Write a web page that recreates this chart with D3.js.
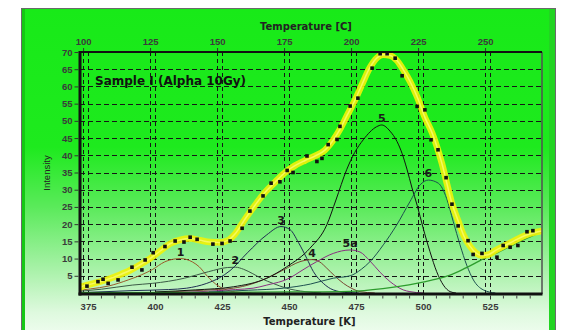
<!DOCTYPE html>
<html><head><meta charset="utf-8">
<script src="https://cdn.jsdelivr.net/npm/d3@7"></script>
<style>html,body{margin:0;padding:0;background:#fff;}svg{display:block;}</style>
</head><body><svg id="c" width="562" height="330"></svg>
<script>
// ---------- data ----------
const kTicks = [375, 400, 425, 450, 475, 500, 525];
const cTicks = [100, 125, 150, 175, 200, 225, 250];
const yTicks = [5, 10, 15, 20, 25, 30, 35, 40, 45, 50, 55, 60, 65, 70];
const titleText = "Sample I (Alpha 10Gy)";
const xTitle = "Temperature [K]";
const x2Title = "Temperature [C]";
const yTitle = "Intensity";

// measured points: temperature [K] and intensity
const dataK = [374.6,378.7,380.6,382.5,386.2,391.4,395.1,396.3,399.3,403.7,407.5,410.8,413.1,415.7,421.6,425.0,428.0,432.5,435.4,440.3,443.3,446.6,449.3,451.5,456.7,460.4,462.3,464.6,467.9,469.0,472.8,475.7,481.0,484.0,486.6,489.6,492.2,497.8,500.7,503.0,505.6,508.6,510.8,513.1,516.8,518.7,522.0,527.6,529.9,532.5,535.4,538.8,541.0];
const dataV = [2.0,3.3,4.0,2.8,3.8,7.5,6.7,9.6,11.7,13.5,15.1,14.8,16.2,15.6,14.2,14.4,15.1,18.8,23.8,28.2,31.9,32.3,35.6,35.0,39.8,38.2,39.1,43.1,44.6,48.4,54.3,56.6,65.3,69.5,69.5,68.2,63.1,54.2,53.2,44.5,41.6,33.5,25.8,19.5,15.2,11.2,11.5,10.4,13.8,13.3,13.8,17.8,18.1];

// fitted total curve [K, intensity]
const fitCurve = [[372.0,1.6],[373.1,2.0],[375.7,2.5],[379.5,3.3],[383.2,4.2],[386.9,5.3],[390.7,6.6],[394.4,8.2],[398.1,10.0],[401.9,12.2],[405.6,14.3],[409.3,15.4],[413.1,15.8],[416.8,15.3],[420.5,14.8],[424.3,14.7],[427.2,15.3],[429.9,17.2],[433.6,21.5],[437.3,25.5],[441.0,29.2],[444.8,32.2],[448.5,35.0],[452.2,37.0],[456.0,38.5],[459.7,39.8],[463.4,41.5],[466.4,44.3],[469.0,47.5],[471.6,51.5],[474.6,56.0],[477.2,60.5],[480.2,65.5],[482.8,68.3],[485.1,69.2],[487.7,69.0],[490.3,67.5],[492.9,64.5],[495.1,61.5],[497.8,57.0],[500.7,51.0],[503.4,46.5],[505.2,42.5],[507.1,37.5],[509.0,31.5],[510.8,26.0],[513.1,21.0],[515.3,16.5],[517.5,13.6],[519.8,11.6],[522.0,10.9],[524.3,11.1],[526.9,12.3],[530.6,13.8],[534.3,15.3],[538.1,16.7],[541.8,17.6],[544.4,18.0]];

// component peaks [K, intensity]
const peak1 = [[372,0.8],[376,1.2],[382.5,2.0],[390,3.8],[395,5.3],[399,6.8],[403.5,9.0],[407.5,9.9],[409.5,10.0],[411.5,9.8],[414,9.0],[416.5,7.6],[419.5,4.9],[423.5,2.1],[426,1.1],[430,0.3],[436,0]];
const peak2 = [[372,0.5],[380,1.1],[391.5,2.3],[399,2.8],[405,3.4],[411,4.3],[420,6.2],[427,7.4],[430,7.5],[433,6.9],[436.5,5.6],[440,4.1],[444,2.8],[449,1.4],[456,0.4],[462,0]];
const peak3 = [[372,0.1],[391.8,0.7],[405,1.0],[411.8,1.4],[419.3,2.8],[424,4.4],[428,6.5],[434.5,11.7],[441.7,16.9],[447,19.3],[450.4,18.4],[453.5,14.7],[456.6,10.1],[459.1,6.2],[462.8,2.8],[466.5,0.9],[472,0.1],[476,0]];
const peak4 = [[400,0.2],[418,0.8],[429.2,1.4],[436,2.6],[441.7,4.3],[447.9,6.7],[454.1,9.1],[458.6,9.7],[461.5,9.0],[464.1,7.2],[467,5.0],[470.3,2.8],[473.5,1.3],[476.5,0.4],[482,0]];
const peak5a = [[405,0.1],[420,0.5],[430,1.0],[436.6,1.4],[441.7,2.3],[450.4,4.4],[454.1,6.2],[460.3,9.1],[466.5,11.5],[472.8,12.5],[476.5,11.9],[480.2,9.3],[484,6.0],[487.7,3.3],[490.2,1.9],[492.6,0.9],[495.1,0.4],[500,0]];
const peak5 = [[400,0.3],[415,0.9],[429.2,1.8],[441.7,4.3],[449.1,7.6],[457.8,13.0],[464.1,19.8],[467.5,27.0],[471.5,35.8],[474.5,40.8],[477.7,44.5],[482.7,48.3],[484.6,48.8],[487.7,47.0],[490.3,44.0],[492.2,40.5],[494,36.0],[495.9,30.5],[497.8,25.5],[500,19.0],[502.6,12.0],[505.1,6.2],[507.6,2.3],[510.1,0.4],[512.3,0]];
const peak6 = [[420,0.3],[435,0.8],[447.9,1.4],[458,2.6],[466.5,4.3],[472.8,5.0],[477,6.9],[480.2,9.1],[485.2,14.0],[490.2,19.8],[495.1,26.5],[498.9,31.4],[502,32.8],[505.7,31.9],[508.8,27.5],[511.3,20.7],[513.8,14.0],[516.3,8.1],[518.8,3.8],[522.5,0.9],[527,0]];
const background = [[372,0.1],[420,0.2],[450,0.3],[472.8,0.5],[485,1.3],[497.6,2.8],[504,3.9],[510.1,5.2],[516,7.3],[522.5,9.9],[528,11.8],[533.7,14.0],[539,16.0],[544.4,17.8]];

const peakNames = ["1", "2", "3", "4", "5a", "5", "6"];
const peakSeries = [peak1, peak2, peak3, peak4, peak5a, peak5, peak6];
const peakColors = ["#9a5a2c", "#3b5a46", "#1e2d52", "#7a4632", "#8a2f80", "#111111", "#1d5050"];

// ---------- drawing ----------
const W = 562, H = 330;
const M = {left: 80, right: 542, top: 52, bottom: 293};
const svg = d3.select("#c");
const x = d3.scaleLinear().domain([372, 544.4]).range([M.left, M.right]);
const y = d3.scaleLinear().domain([0, 70]).range([M.bottom, M.top]);
const K0 = 273.15;

const defs = svg.append("defs");
const g = defs.append("linearGradient").attr("id", "bg").attr("x1", 0).attr("y1", 0).attr("x2", 0).attr("y2", 1);
[[0, "rgb(24,234,24)"], [0.42, "rgb(30,234,30)"], [0.6, "rgb(90,234,90)"], [0.8, "rgb(172,242,172)"], [0.92, "rgb(222,249,222)"], [1, "rgb(242,253,242)"]]
  .forEach(s => g.append("stop").attr("offset", s[0]).attr("stop-color", s[1]));
defs.append("clipPath").attr("id", "clip").append("rect")
  .attr("x", M.left).attr("y", M.top - 3).attr("width", M.right - M.left).attr("height", M.bottom - M.top + 3);

// panel
svg.append("rect").attr("x", 21.5).attr("y", 8.5).attr("width", 534).attr("height", 330)
  .attr("fill", "url(#bg)").attr("stroke", "#6a6a6a").attr("stroke-width", 1);
svg.append("rect").attr("x", 22).attr("y", 9).attr("width", 3).attr("height", 330).attr("fill", "#14c814");
svg.append("rect").attr("x", 549).attr("y", 9).attr("width", 6).attr("height", 330).attr("fill", "#22d422");

// grid
const grid = svg.append("g").attr("stroke", "#151515").attr("stroke-width", 1).attr("fill", "none");
yTicks.filter(v => v < 70).forEach(v => {
  grid.append("line").attr("x1", M.left).attr("x2", M.right).attr("y1", Math.round(y(v)) + 0.5).attr("y2", Math.round(y(v)) + 0.5)
    .attr("stroke-dasharray", "5,3");
});
kTicks.forEach(k => {
  const px = Math.round(x(k)) + 0.5;
  grid.append("line").attr("x1", px).attr("x2", px).attr("y1", M.top).attr("y2", M.bottom).attr("stroke-dasharray", "4,3");
});
cTicks.forEach(c => {
  const px = Math.round(x(c + K0)) + 0.5;
  grid.append("line").attr("x1", px).attr("x2", px).attr("y1", M.top).attr("y2", M.bottom).attr("stroke-dasharray", "4,3");
});

const line = d3.line().x(d => x(d[0])).y(d => y(d[1])).curve(d3.curveMonotoneX);
const plot = svg.append("g").attr("clip-path", "url(#clip)");

peakSeries.forEach((s, i) => {
  plot.append("path").attr("d", line(s)).attr("fill", "none").attr("stroke", peakColors[i]).attr("stroke-width", 1);
});
plot.append("path").attr("d", line(background)).attr("fill", "none").attr("stroke", "#2c9c2c").attr("stroke-width", 1.3);
plot.append("path").attr("d", line(fitCurve)).attr("fill", "none").attr("stroke", "#eef20a").attr("stroke-width", 6.5)
  .attr("stroke-opacity", 0.92).attr("stroke-linecap", "round");
plot.append("path").attr("d", line(fitCurve)).attr("fill", "none").attr("stroke", "#f6f860").attr("stroke-width", 1.5);

// data squares
plot.selectAll("rect.pt").data(d3.zip(dataK, dataV)).enter().append("rect").attr("class", "pt")
  .attr("x", d => x(d[0]) - 1.8).attr("y", d => y(d[1]) - 1.8).attr("width", 3.6).attr("height", 3.6).attr("fill", "#111");

// peak labels at each peak's maximum
peakSeries.forEach((s, i) => {
  const m = s.reduce((a, b) => b[1] > a[1] ? b : a);
  svg.append("text").attr("x", x(m[0])).attr("y", y(m[1]) - 3).attr("text-anchor", "middle")
    .attr("font-family", "'DejaVu Sans', sans-serif").attr("font-weight", "bold").attr("font-size", 11)
    .attr("fill", "#1a1a1a").text(peakNames[i]);
});

// frame
svg.append("line").attr("x1", M.right).attr("x2", M.right).attr("y1", M.top).attr("y2", M.bottom + 1).attr("stroke", "#505050").attr("stroke-width", 1.5);
svg.append("line").attr("x1", M.left - 1).attr("x2", M.right).attr("y1", M.top).attr("y2", M.top).attr("stroke", "#111").attr("stroke-width", 2);
svg.append("line").attr("x1", M.left).attr("x2", M.left).attr("y1", M.top - 1).attr("y2", M.bottom + 2.5).attr("stroke", "#111").attr("stroke-width", 3);
svg.append("line").attr("x1", M.left - 1.5).attr("x2", M.right + 0.5).attr("y1", M.bottom + 1).attr("y2", M.bottom + 1).attr("stroke", "#111").attr("stroke-width", 3);

const tickFont = "'Liberation Sans', Arial, sans-serif";
// bottom axis
const xb = d3.axisBottom(x).tickValues(kTicks).tickSize(4).tickPadding(4).tickFormat(d3.format("d"));
const gb = svg.append("g").attr("transform", `translate(0,${M.bottom + 2.5})`).call(xb);
const minorK = d3.range(375, 545, 5).filter(k => !kTicks.includes(k));
gb.selectAll("line.minor").data(minorK).enter().append("line").attr("class", "minor")
  .attr("x1", d => x(d)).attr("x2", d => x(d)).attr("y1", 0).attr("y2", 3).attr("stroke", "#444");
// top axis (Celsius)
const xt = d3.axisTop(d3.scaleLinear().domain(x.domain().map(k => k - K0)).range(x.range()))
  .tickValues(cTicks).tickSize(3).tickPadding(3).tickFormat(d3.format("d"));
const gt = svg.append("g").attr("transform", `translate(0,${M.top - 1})`).call(xt);
// left axis
const yl = d3.axisLeft(y).tickValues(yTicks).tickSize(4).tickPadding(2).tickFormat(d3.format("d"));
const gl = svg.append("g").attr("transform", `translate(${M.left - 1.5},0)`).call(yl);
[gb, gt, gl].forEach(a => {
  a.select(".domain").remove();
  a.selectAll(".tick line").attr("stroke", "#333");
  a.selectAll("text").attr("font-family", tickFont).attr("font-weight", "bold").attr("font-size", 9.5).attr("fill", "#3a3a3a");
});

// titles
svg.append("text").attr("x", 95).attr("y", 85).attr("font-family", "'DejaVu Sans', sans-serif").attr("font-weight", "bold")
  .attr("font-size", 12).attr("fill", "#111").text(titleText);
svg.append("text").attr("x", 309.5).attr("y", 324.5).attr("text-anchor", "middle").attr("font-family", "'DejaVu Sans', sans-serif")
  .attr("font-weight", "bold").attr("font-size", 10).attr("fill", "#222").text(xTitle);
svg.append("text").attr("x", 306).attr("y", 29.5).attr("text-anchor", "middle").attr("font-family", "'DejaVu Sans', sans-serif")
  .attr("font-weight", "bold").attr("font-size", 10).attr("fill", "#222").text(x2Title);
svg.append("text").attr("transform", "translate(50,173) rotate(-90)").attr("text-anchor", "middle")
  .attr("font-family", tickFont).attr("font-size", 9.5).attr("fill", "#222").text(yTitle);
</script></body></html>
